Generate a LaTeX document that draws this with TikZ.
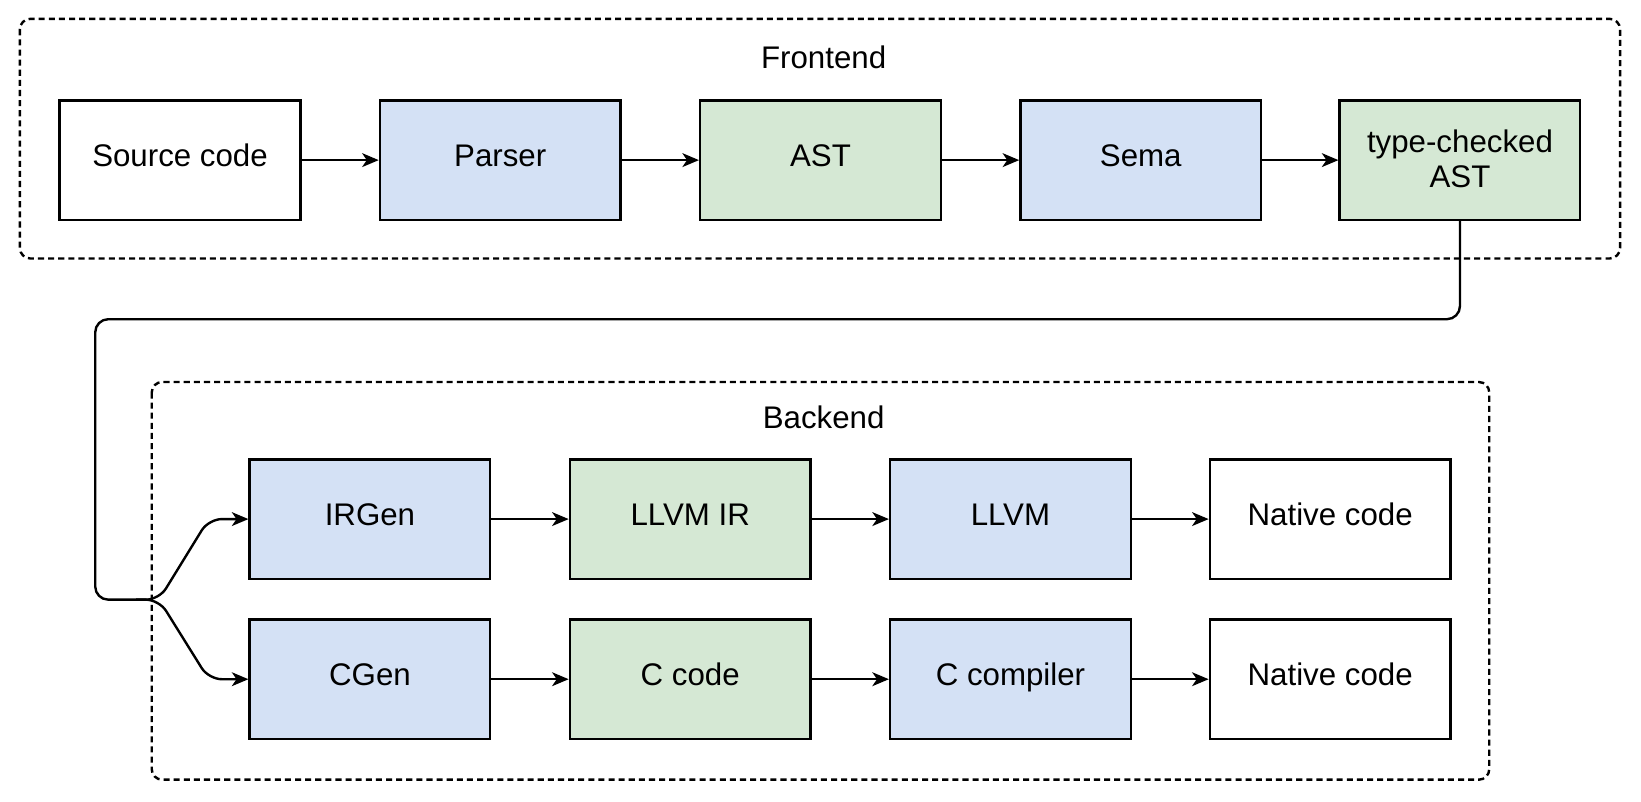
\documentclass[tikz,border=0pt]{standalone}
\usepackage{fontspec}
\setmainfont{Liberation Sans}
\usetikzlibrary{arrows.meta}

\definecolor{stagefill}{HTML}{D4E1F5}
\definecolor{datafill}{HTML}{D5E8D4}

\begin{document}
\begin{tikzpicture}[x=0.02cm,y=-0.02cm,
        font=\fontsize{17}{19}\selectfont,
        line width=1.3pt,
        >={Stealth[length=9pt,width=7.5pt,inset=2.5pt]},
        box/.style={draw,minimum width=4.6cm,minimum height=2.28cm,align=center,inner sep=0pt,
            text height=0.85em,text depth=0.2em},
        stage/.style={box,fill=stagefill},
        data/.style={box,fill=datafill},
        frame/.style={draw,dash pattern=on 3.3pt off 2.2pt,rounded corners=0.2cm}]
        \useasboundingbox (0,0) rectangle (1568,766);
        \draw[frame] (19,18) rectangle (1548,247);
        \draw[frame] (145,365) rectangle (1423,745);
        \node (frontend) at (787,55) {Frontend};
        \node (backend) at (787,399) {Backend};

        \node[box] (src) at (172,153) {Source code};
        \node[stage] (parser) at (478,153) {Parser};
        \node[data] (ast) at (784,153) {AST};
        \node[stage] (sema) at (1090,153) {Sema};
        \node[data,text height=,text depth=0.15em] (tast) at (1395,153) {type-checked\\AST};

        \node[stage] (irgen) at (353.5,496) {IRGen};
        \node[data] (llvmir) at (659.5,496) {LLVM IR};
        \node[stage] (llvm) at (965.5,496) {LLVM};
        \node[box] (native1) at (1271,496) {Native code};

        \node[stage] (cgen) at (353.5,649) {CGen};
        \node[data] (ccode) at (659.5,649) {C code};
        \node[stage] (ccomp) at (965.5,649) {C compiler};
        \node[box] (native2) at (1271,649) {Native code};

        \draw[->] (src) -- (parser);
        \draw[->] (parser) -- (ast);
        \draw[->] (ast) -- (sema);
        \draw[->] (sema) -- (tast);

        \draw[->] (irgen) -- (llvmir);
        \draw[->] (llvmir) -- (llvm);
        \draw[->] (llvm) -- (native1);
        \draw[->] (cgen) -- (ccode);
        \draw[->] (ccode) -- (ccomp);
        \draw[->] (ccomp) -- (native2);

        \coordinate (fork) at (130,573);
        \draw[rounded corners=0.25cm] (tast.south) -- (1395,305) -- (91,305) -- (91,573) -- (fork);
        \draw[->,rounded corners=0.25cm] (fork) -- ++(22,0) -- ([xshift=-0.76cm]irgen.west) -- (irgen.west);
        \draw[->,rounded corners=0.25cm] (fork) -- ++(22,0) -- ([xshift=-0.76cm]cgen.west) -- (cgen.west);
\end{tikzpicture}
\end{document}
